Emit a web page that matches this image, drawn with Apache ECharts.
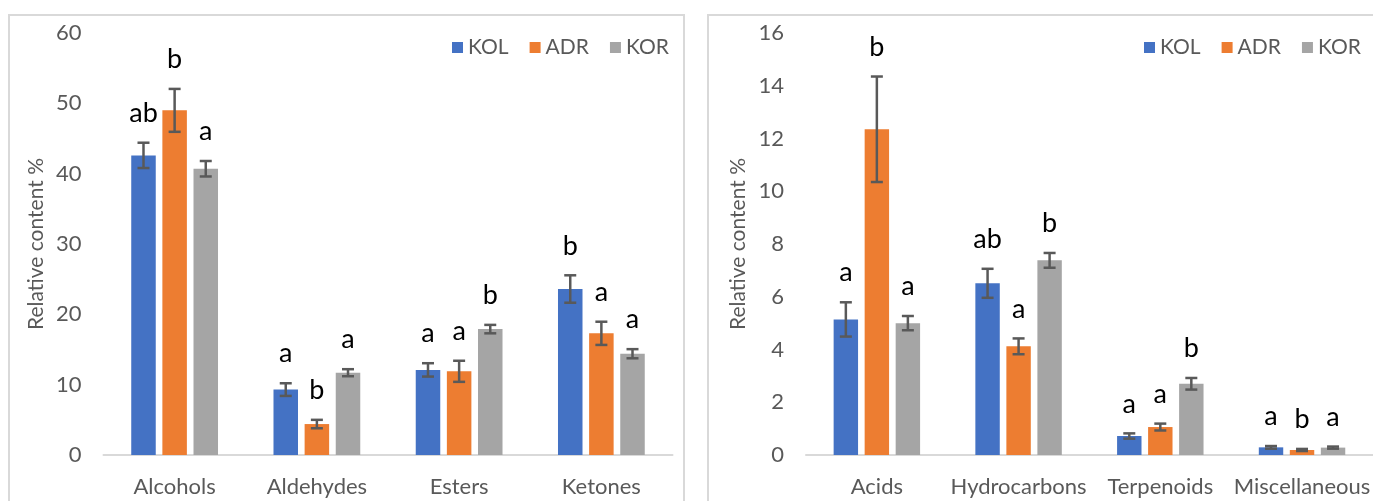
<!DOCTYPE html>
<html>
<head>
<meta charset="utf-8">
<script src="https://cdn.jsdelivr.net/npm/echarts@6/dist/echarts.min.js"></script>
<style>
  html, body { margin: 0; padding: 0; background: #ffffff; }
  #chart { width: 1373px; height: 501px; }
</style>
</head>
<body>
<div id="chart"></div>
<script>
// Groups compared in both panels
const groups = ['KOL', 'ADR', 'KOR'];
const groupColors = ['#4472C4', '#ED7D31', '#A5A5A5'];

// Left panel: major compound classes (relative content %, mean and SD)
const leftCategories = ['Alcohols', 'Aldehydes', 'Esters', 'Ketones'];
const leftKOL = [42.6, 9.3, 12.1, 23.6];
const leftADR = [49.0, 4.4, 11.9, 17.3];
const leftKOR = [40.7, 11.7, 17.9, 14.4];
const leftKOLsd = [1.8, 0.9, 0.95, 1.95];
const leftADRsd = [3.05, 0.6, 1.5, 1.65];
const leftKORsd = [1.1, 0.5, 0.6, 0.65];
const leftKOLsig = ['ab', 'a', 'a', 'b'];
const leftADRsig = ['b', 'b', 'a', 'a'];
const leftKORsig = ['a', 'a', 'b', 'a'];
const leftTicks = [0, 10, 20, 30, 40, 50, 60];

// Right panel: minor compound classes
const rightCategories = ['Acids', 'Hydrocarbons', 'Terpenoids', 'Miscellaneous'];
const rightKOL = [5.14, 6.51, 0.72, 0.29];
const rightADR = [12.35, 4.12, 1.06, 0.19];
const rightKOR = [5.0, 7.38, 2.70, 0.28];
const rightKOLsd = [0.65, 0.55, 0.1, 0.05];
const rightADRsd = [2.0, 0.3, 0.13, 0.04];
const rightKORsd = [0.27, 0.28, 0.22, 0.04];
const rightKOLsig = ['a', 'ab', 'a', 'a'];
const rightADRsig = ['b', 'a', 'a', 'b'];
const rightKORsig = ['a', 'b', 'b', 'a'];
const rightTicks = [0, 2, 4, 6, 8, 10, 12, 14, 16];

const FONT = 'Lato';
const TEXT_GREY = '#595959';
const CAT_GAP = 0.39;
const BAR_GAP = 0.27;

const panels = [
  { cats: leftCategories, means: [leftKOL, leftADR, leftKOR], sds: [leftKOLsd, leftADRsd, leftKORsd],
    sig: [leftKOLsig, leftADRsig, leftKORsig], ticks: leftTicks },
  { cats: rightCategories, means: [rightKOL, rightADR, rightKOR], sds: [rightKOLsd, rightADRsd, rightKORsd],
    sig: [rightKOLsig, rightADRsig, rightKORsig], ticks: rightTicks }
];

// Error bar with caps plus significance letter, placed over the matching bar in the group
function errorRenderer(groupIdx, letters) {
  return function (params, api) {
    const cat = api.value(0);
    const lo = api.coord([cat, api.value(1)]);
    const hi = api.coord([cat, api.value(2)]);
    const band = api.size([1, 0])[0];
    const bw = band * (1 - CAT_GAP) / (3 + 2 * BAR_GAP);
    const step = bw * (1 + BAR_GAP);
    const x = lo[0] + (groupIdx - 1) * step;
    const half = 6;
    const s = { stroke: '#595959', lineWidth: 2.5 };
    return {
      type: 'group',
      children: [
        { type: 'line', shape: { x1: x, y1: lo[1], x2: x, y2: hi[1] }, style: s },
        { type: 'line', shape: { x1: x - half, y1: lo[1], x2: x + half, y2: lo[1] }, style: s },
        { type: 'line', shape: { x1: x - half, y1: hi[1], x2: x + half, y2: hi[1] }, style: s },
        { type: 'text', x: x, y: hi[1] - 16,
          style: { text: letters[params.dataIndex], fill: '#000000', font: '27px ' + FONT,
                   align: 'center', verticalAlign: 'bottom' } }
      ]
    };
  };
}

const grids = [
  { left: 103.5, width: 569, top: 33, bottom: 46 },
  { left: 806, width: 569, top: 33, bottom: 46 }
];

const xAxes = panels.map((p, i) => ({
  type: 'category', gridIndex: i, data: p.cats,
  axisLine: { lineStyle: { color: '#D9D9D9', width: 2 } },
  axisTick: { show: false },
  axisLabel: { color: TEXT_GREY, fontSize: 22, fontFamily: FONT, margin: 21, interval: 0 }
}));

const yAxes = panels.map((p, i) => ({
  type: 'value', gridIndex: i,
  min: p.ticks[0], max: p.ticks[p.ticks.length - 1], interval: p.ticks[1] - p.ticks[0],
  name: 'Relative content %', nameLocation: 'middle', nameGap: 57, nameRotate: 90,
  nameTextStyle: { color: TEXT_GREY, fontSize: 21, fontFamily: FONT },
  axisLine: { show: false }, axisTick: { show: false },
  splitLine: { show: false },
  axisLabel: { color: TEXT_GREY, fontSize: 22, fontFamily: FONT, margin: 22 }
}));

const series = [];
panels.forEach((p, pi) => {
  groups.forEach((g, gi) => {
    series.push({
      type: 'bar', name: g, xAxisIndex: pi, yAxisIndex: pi,
      data: p.means[gi],
      itemStyle: { color: groupColors[gi] },
      barCategoryGap: (CAT_GAP * 100) + '%', barGap: (BAR_GAP * 100) + '%',
      emphasis: { disabled: true }
    });
  });
  groups.forEach((g, gi) => {
    series.push({
      type: 'custom', name: g, xAxisIndex: pi, yAxisIndex: pi, z: 5,
      renderItem: errorRenderer(gi, p.sig[gi]),
      encode: { x: 0, y: [1, 2] },
      data: p.means[gi].map((m, k) => [k, m - p.sds[gi][k], m + p.sds[gi][k]]),
      silent: true
    });
  });
});

const legendBase = {
  data: groups, icon: 'rect', itemWidth: 11, itemHeight: 11, itemGap: 21, top: 32,
  textStyle: { color: TEXT_GREY, fontSize: 21, fontFamily: FONT },
  selectedMode: false
};

const option = {
  animation: false,
  textStyle: { fontFamily: FONT },
  graphic: [
    { type: 'rect', z: -10, silent: true, shape: { x: 9, y: 15, width: 675, height: 520 },
      style: { fill: '#ffffff', stroke: '#D9D9D9', lineWidth: 2 } },
    { type: 'rect', z: -10, silent: true, shape: { x: 708, y: 15, width: 700, height: 520 },
      style: { fill: '#ffffff', stroke: '#D9D9D9', lineWidth: 2 } }
  ],
  legend: [
    Object.assign({}, legendBase, { left: 447 }),
    Object.assign({}, legendBase, { left: 1139 })
  ],
  grid: grids,
  xAxis: xAxes,
  yAxis: yAxes,
  series: series
};

const chart = echarts.init(document.getElementById('chart'), null, { renderer: 'canvas' });
chart.setOption(option);
</script>
</body>
</html>
